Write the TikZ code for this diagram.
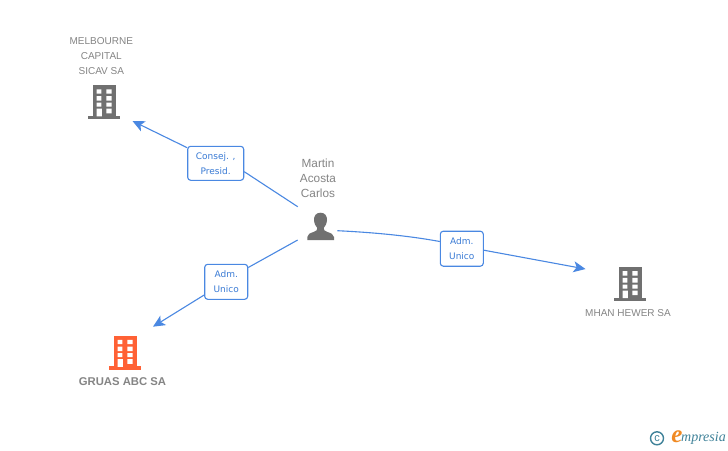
\documentclass[tikz,border=0pt]{standalone}
\usepackage{fontspec}
\setmainfont{Liberation Sans}
\newfontfamily\labfont{DejaVu Sans}
\newfontfamily\logofont{Liberation Serif}
\usetikzlibrary{arrows.meta}
\definecolor{greyicon}{HTML}{707070}
\definecolor{greytext}{HTML}{858585}
\definecolor{orangeicon}{HTML}{FF6135}
\definecolor{linkblue}{HTML}{4A88E2}
\definecolor{labblue}{HTML}{3A7BD5}
\definecolor{logoteal}{HTML}{3F8299}
\definecolor{logoorange}{HTML}{F08A24}
\tikzset{
  x=1pt,y=-1pt,
  nametext/.style={text=greytext,align=center,inner sep=0pt,font=\fontsize{10}{15}\selectfont},
  linklabel/.style={draw=linkblue,line width=1.1pt,fill=white,rounded corners=3pt,text=labblue,
    align=center,inner sep=0pt,font=\labfont\fontsize{9}{15}\selectfont},
  link/.style={draw=linkblue,line width=1.1pt},
  linkarrow/.style={link,-{Stealth[length=12pt,width=11pt,inset=3pt]}},
  pics/officeblock/.style={code={
    \fill[#1] (5,0) rectangle (27.4,31);
    \fill[#1] (0,30.5) rectangle (31.7,33.7);
    \fill[white] (8.3,4) rectangle (13,8.3) (18,4) rectangle (23.3,8.3)
      (8.3,10.7) rectangle (13,15.3) (18,10.7) rectangle (23.3,15.3)
      (8.3,17.3) rectangle (13,21.3) (18,17.3) rectangle (23.3,21.3)
      (8.3,23.3) rectangle (13.5,31) (18,23.3) rectangle (23.3,28);
  }}
}
\begin{document}
\begin{tikzpicture}
\useasboundingbox (0,0) rectangle (728,450);
\fill[white] (0,0) rectangle (728,450);

% icons
\pic at (88.3,85.3) {officeblock=greyicon};
\pic at (109.3,335.8) {officeblock=orangeicon};
\pic at (614.3,267.2) {officeblock=greyicon};
\fill[greyicon] (320.5,212.7) .. controls (316,212.7) and (313.8,216) .. (314,220)
  .. controls (314.2,224) and (316,226.5) .. (317.3,228)
  .. controls (317.5,230) and (316.5,230.8) .. (314,231.8)
  .. controls (310,233.2) and (307.5,234) .. (307.3,237) -- (307.3,240) -- (334,240) -- (334,237)
  .. controls (333.5,234) and (331,233.2) .. (327,231.8)
  .. controls (324.5,230.8) and (323.5,230) .. (323.7,228)
  .. controls (325,226.5) and (326.8,224) .. (327,220)
  .. controls (327.2,216) and (325,212.7) .. (320.5,212.7) -- cycle;

% names
\node[nametext] (melbourne) at (101.3,56) {MELBOURNE\\CAPITAL\\SICAV SA};
\node[nametext,font=\fontsize{11.8}{15}\selectfont] (martin) at (318,178.5) {Martin\\Acosta\\Carlos};
\node[nametext] (mhan) at (628,312.7) {MHAN HEWER SA};
\node[nametext,font=\fontsize{11.3}{15}\selectfont\bfseries] (gruas) at (122.5,381.7) {GRUAS ABC SA};

% labels
\node[linklabel,minimum width=56pt,minimum height=34pt] (lab1) at (215.7,163.3) {Consej. ,\\Presid.};
\node[linklabel,minimum width=43pt,minimum height=35pt] (lab2) at (226.2,281.8) {Adm.\\Unico};
\node[linklabel,minimum width=43pt,minimum height=35pt] (lab3) at (461.8,248.7) {Adm.\\Unico};

% free ends
\coordinate (s1) at (297.7,206.7);
\coordinate (e1) at (132.5,121);
\coordinate (s2) at (297.7,240);
\coordinate (e2) at (153,326.7);
\coordinate (s3) at (337.3,230.7);
\coordinate (e3) at (585.5,269);

% connectors
\draw[link] (s1) -- ([yshift=-8.4pt]lab1.east);
\draw[linkarrow] ([yshift=15.6pt]lab1.west) -- (e1);
\draw[link] (s2) -- ([yshift=14.3pt]lab2.east);
\draw[linkarrow] ([yshift=-13.2pt]lab2.west) -- (e2);
\draw[link] (s3) .. controls (375,232.5) and (410,236) .. ([yshift=7.2pt]lab3.west);
\draw[linkarrow] ([yshift=-1.5pt]lab3.east) -- (e3);

% logo
\node[circle,draw=logoteal,line width=1.4pt,minimum size=13pt,inner sep=0pt,text=logoteal,
  font=\fontsize{11}{11}\selectfont] (copyr) at (657,438.3) {c};
\node[inner sep=0pt,text=logoorange,font=\logofont\itshape\bfseries\fontsize{25}{25}\selectfont] (logoe) at (677,436.5) {e};
\node[inner sep=0pt,text=logoteal,anchor=west,font=\logofont\itshape\fontsize{14}{14}\selectfont] (logotext) at (681,438.5) {mpresia};
\end{tikzpicture}
\end{document}
